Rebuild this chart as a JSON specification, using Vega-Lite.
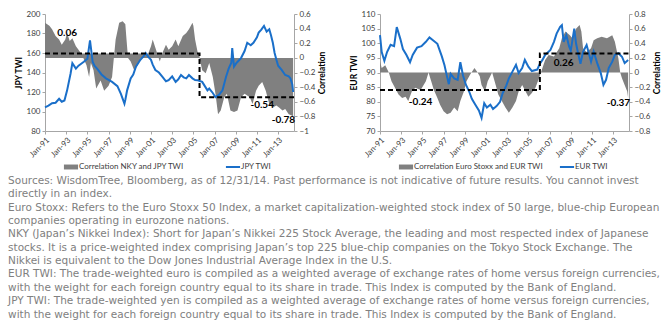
{
  "$schema": "https://vega.github.io/schema/vega-lite/v6.json",
  "background": "white",
  "padding": {"left": 8, "top": 10, "right": 2, "bottom": 2},
  "spacing": 22,
  "datasets": {
    "jpyTwi": [
      {"date":"1991-01-01","twi":104.3},{"date":"1991-05-01","twi":106},{"date":"1991-09-01","twi":108.5},{"date":"1992-01-01","twi":109},{"date":"1992-05-01","twi":113},{"date":"1992-08-01","twi":110},{"date":"1992-11-01","twi":111.3},{"date":"1993-02-01","twi":121.7},{"date":"1993-06-01","twi":139},{"date":"1993-08-01","twi":149.6},{"date":"1993-12-01","twi":144},{"date":"1994-03-01","twi":147},{"date":"1994-06-01","twi":149},{"date":"1994-09-01","twi":151},{"date":"1995-01-01","twi":154},{"date":"1995-04-01","twi":173},{"date":"1995-07-01","twi":151},{"date":"1995-09-01","twi":147},{"date":"1995-12-01","twi":144},{"date":"1996-05-01","twi":138},{"date":"1996-10-01","twi":134},{"date":"1997-05-01","twi":130.4},{"date":"1997-11-01","twi":126},{"date":"1998-03-01","twi":118},{"date":"1998-07-01","twi":108},{"date":"1998-08-01","twi":112},{"date":"1998-10-01","twi":121.7},{"date":"1999-02-01","twi":134},{"date":"1999-05-01","twi":138},{"date":"1999-08-01","twi":146},{"date":"2000-01-01","twi":153},{"date":"2000-05-01","twi":157},{"date":"2000-07-01","twi":160},{"date":"2000-10-01","twi":156},{"date":"2001-01-01","twi":153},{"date":"2001-03-01","twi":148},{"date":"2001-06-01","twi":142.6},{"date":"2001-10-01","twi":140},{"date":"2002-02-01","twi":135.6},{"date":"2002-06-01","twi":131},{"date":"2002-09-01","twi":132.2},{"date":"2003-01-01","twi":136},{"date":"2003-05-01","twi":130.4},{"date":"2003-08-01","twi":133},{"date":"2003-11-01","twi":137.4},{"date":"2004-02-01","twi":135},{"date":"2004-05-01","twi":134},{"date":"2004-08-01","twi":137.4},{"date":"2004-12-01","twi":134},{"date":"2005-03-01","twi":132.2},{"date":"2005-06-01","twi":132},{"date":"2005-11-01","twi":130.4},{"date":"2006-05-01","twi":121.7},{"date":"2006-07-01","twi":123.5},{"date":"2006-11-01","twi":119},{"date":"2007-02-01","twi":114.7},{"date":"2007-06-01","twi":117},{"date":"2007-10-01","twi":121.7},{"date":"2008-02-01","twi":135.6},{"date":"2008-05-01","twi":144},{"date":"2008-08-01","twi":150},{"date":"2008-09-01","twi":165},{"date":"2008-11-01","twi":146},{"date":"2009-02-01","twi":150},{"date":"2009-07-01","twi":154.8},{"date":"2009-11-01","twi":162},{"date":"2010-02-01","twi":170.5},{"date":"2010-06-01","twi":168},{"date":"2010-09-01","twi":170.5},{"date":"2011-01-01","twi":176},{"date":"2011-03-01","twi":180.9},{"date":"2011-06-01","twi":184},{"date":"2011-09-01","twi":187.8},{"date":"2011-12-01","twi":182},{"date":"2012-03-01","twi":184.3},{"date":"2012-05-01","twi":178},{"date":"2012-07-01","twi":170.5},{"date":"2012-09-01","twi":160},{"date":"2012-11-01","twi":153},{"date":"2013-01-01","twi":147},{"date":"2013-05-01","twi":142.6},{"date":"2013-09-01","twi":137.4},{"date":"2014-01-01","twi":136},{"date":"2014-03-01","twi":133.9},{"date":"2014-05-01","twi":128},{"date":"2014-06-01","twi":120}
    ],
    "jpyCorr": [
      {"date":"1991-01-01","corr":0.48},{"date":"1991-06-01","corr":0.44},{"date":"1991-09-01","corr":0.39},{"date":"1992-01-01","corr":0.30},{"date":"1992-05-01","corr":0.25},{"date":"1992-08-01","corr":0.18},{"date":"1992-12-01","corr":0.25},{"date":"1993-02-01","corr":0.34},{"date":"1993-05-01","corr":0.23},{"date":"1993-08-01","corr":0.27},{"date":"1993-12-01","corr":0.16},{"date":"1994-03-01","corr":0.11},{"date":"1994-07-01","corr":0.04},{"date":"1994-12-01","corr":-0.10},{"date":"1995-03-01","corr":-0.26},{"date":"1995-05-01","corr":-0.07},{"date":"1995-08-01","corr":-0.17},{"date":"1995-11-01","corr":-0.42},{"date":"1996-04-01","corr":-0.31},{"date":"1996-08-01","corr":-0.45},{"date":"1997-01-01","corr":-0.38},{"date":"1997-05-01","corr":-0.26},{"date":"1997-07-01","corr":0.0},{"date":"1997-09-01","corr":0.25},{"date":"1998-01-01","corr":0.48},{"date":"1998-05-01","corr":0.50},{"date":"1998-08-01","corr":0.46},{"date":"1998-09-01","corr":0.30},{"date":"1998-11-01","corr":0.0},{"date":"1999-02-01","corr":-0.05},{"date":"1999-06-01","corr":-0.17},{"date":"1999-09-01","corr":-0.12},{"date":"2000-01-01","corr":-0.02},{"date":"2000-05-01","corr":0.07},{"date":"2000-08-01","corr":0.0},{"date":"2001-01-01","corr":0.16},{"date":"2001-03-01","corr":0.25},{"date":"2001-06-01","corr":0.14},{"date":"2001-11-01","corr":-0.05},{"date":"2002-02-01","corr":0.07},{"date":"2002-06-01","corr":0.18},{"date":"2002-09-01","corr":0.11},{"date":"2003-01-01","corr":0.16},{"date":"2003-05-01","corr":0.25},{"date":"2003-08-01","corr":0.16},{"date":"2004-01-01","corr":0.30},{"date":"2004-05-01","corr":0.34},{"date":"2004-08-01","corr":0.39},{"date":"2004-12-01","corr":0.48},{"date":"2005-01-01","corr":0.44},{"date":"2005-03-01","corr":0.25},{"date":"2005-06-01","corr":0.07},{"date":"2005-08-01","corr":0.0},{"date":"2005-11-01","corr":-0.17},{"date":"2006-03-01","corr":-0.21},{"date":"2006-07-01","corr":-0.07},{"date":"2006-11-01","corr":-0.26},{"date":"2007-02-01","corr":-0.49},{"date":"2007-05-01","corr":-0.77},{"date":"2007-08-01","corr":-0.72},{"date":"2007-12-01","corr":-0.54},{"date":"2008-03-01","corr":-0.49},{"date":"2008-07-01","corr":-0.72},{"date":"2008-11-01","corr":-0.74},{"date":"2009-03-01","corr":-0.72},{"date":"2009-07-01","corr":-0.54},{"date":"2009-11-01","corr":-0.49},{"date":"2010-05-01","corr":-0.54},{"date":"2010-08-01","corr":-0.63},{"date":"2010-12-01","corr":-0.45},{"date":"2011-03-01","corr":-0.38},{"date":"2011-07-01","corr":-0.33},{"date":"2011-11-01","corr":-0.45},{"date":"2012-03-01","corr":-0.63},{"date":"2012-07-01","corr":-0.68},{"date":"2012-11-01","corr":-0.65},{"date":"2013-02-01","corr":-0.68},{"date":"2013-06-01","corr":-0.72},{"date":"2013-09-01","corr":-0.70},{"date":"2014-01-01","corr":-0.77},{"date":"2014-05-01","corr":-0.79},{"date":"2014-06-01","corr":-0.80}
    ],
    "jpyBand": [{"date":"1991-01-01","corr":0.06},{"date":"2005-08-01","corr":0.06}],
    "jpyAvg": [
      {"i":1,"date":"1991-01-01","corr":0.06},{"i":2,"date":"2005-08-01","corr":0.06},{"i":3,"date":"2005-08-01","corr":-0.54},{"i":4,"date":"2014-07-01","corr":-0.54}
    ],
    "jpyLbl": [
      {"date":"1993-02-01","corr":0.34,"label":"0.06"},{"date":"2011-07-01","corr":-0.65,"label":"-0.54"},{"date":"2013-07-01","corr":-0.85,"label":"-0.78"}
    ],
    "eurTwi": [
      {"date":"1991-01-01","twi":102.8},{"date":"1991-03-01","twi":97},{"date":"1991-06-01","twi":94},{"date":"1991-09-01","twi":97},{"date":"1992-01-01","twi":99.5},{"date":"1992-05-01","twi":99},{"date":"1992-08-01","twi":105.5},{"date":"1992-12-01","twi":101.5},{"date":"1993-03-01","twi":98},{"date":"1993-07-01","twi":96},{"date":"1993-11-01","twi":93.5},{"date":"1994-02-01","twi":96},{"date":"1994-07-01","twi":98.5},{"date":"1994-12-01","twi":99},{"date":"1995-05-01","twi":100.5},{"date":"1995-09-01","twi":102},{"date":"1996-01-01","twi":101},{"date":"1996-06-01","twi":99.8},{"date":"1996-11-01","twi":95.5},{"date":"1997-02-01","twi":92.5},{"date":"1997-05-01","twi":88.5},{"date":"1997-07-01","twi":86},{"date":"1997-09-01","twi":89.5},{"date":"1998-01-01","twi":88},{"date":"1998-05-01","twi":87.5},{"date":"1998-08-01","twi":93.5},{"date":"1998-11-01","twi":89},{"date":"1999-02-01","twi":86},{"date":"1999-06-01","twi":83.5},{"date":"1999-09-01","twi":81},{"date":"2000-01-01","twi":79},{"date":"2000-05-01","twi":77},{"date":"2000-08-01","twi":74.5},{"date":"2000-11-01","twi":79.5},{"date":"2001-02-01","twi":78},{"date":"2001-06-01","twi":79},{"date":"2001-09-01","twi":77.5},{"date":"2002-01-01","twi":78.5},{"date":"2002-05-01","twi":80},{"date":"2002-08-01","twi":83},{"date":"2002-12-01","twi":85.5},{"date":"2003-03-01","twi":88},{"date":"2003-07-01","twi":90.3},{"date":"2003-11-01","twi":92.6},{"date":"2004-02-01","twi":89.8},{"date":"2004-06-01","twi":91.5},{"date":"2004-09-01","twi":94.3},{"date":"2005-01-01","twi":92},{"date":"2005-05-01","twi":90.5},{"date":"2005-11-01","twi":91},{"date":"2006-02-01","twi":93},{"date":"2006-05-01","twi":94.3},{"date":"2006-08-01","twi":96},{"date":"2007-02-01","twi":97.7},{"date":"2007-06-01","twi":100.5},{"date":"2007-09-01","twi":103.3},{"date":"2008-01-01","twi":105.6},{"date":"2008-03-01","twi":106.2},{"date":"2008-05-01","twi":100.5},{"date":"2008-08-01","twi":102.8},{"date":"2008-11-01","twi":99},{"date":"2009-01-01","twi":97.5},{"date":"2009-05-01","twi":105},{"date":"2009-07-01","twi":100},{"date":"2009-09-01","twi":97},{"date":"2009-12-01","twi":93},{"date":"2010-03-01","twi":97.1},{"date":"2010-07-01","twi":99.4},{"date":"2010-12-01","twi":93.7},{"date":"2011-03-01","twi":97.1},{"date":"2011-07-01","twi":93.2},{"date":"2011-11-01","twi":89.8},{"date":"2012-02-01","twi":85.8},{"date":"2012-05-01","twi":87.5},{"date":"2012-08-01","twi":91.5},{"date":"2012-12-01","twi":93.7},{"date":"2013-03-01","twi":96},{"date":"2013-07-01","twi":96.6},{"date":"2013-11-01","twi":95.4},{"date":"2014-02-01","twi":93.2},{"date":"2014-06-01","twi":94.3}
    ],
    "eurCorr": [
      {"date":"1991-01-01","corr":0.15},{"date":"1991-03-01","corr":0.06},{"date":"1991-07-01","corr":0.10},{"date":"1991-11-01","corr":0.0},{"date":"1992-02-01","corr":-0.12},{"date":"1992-06-01","corr":-0.21},{"date":"1992-10-01","corr":-0.30},{"date":"1993-02-01","corr":-0.35},{"date":"1993-06-01","corr":-0.33},{"date":"1993-09-01","corr":-0.39},{"date":"1994-01-01","corr":-0.26},{"date":"1994-05-01","corr":-0.21},{"date":"1994-11-01","corr":-0.24},{"date":"1995-05-01","corr":-0.12},{"date":"1995-08-01","corr":0.0},{"date":"1995-11-01","corr":-0.12},{"date":"1996-02-01","corr":-0.24},{"date":"1996-06-01","corr":-0.35},{"date":"1996-09-01","corr":-0.44},{"date":"1997-01-01","corr":-0.53},{"date":"1997-05-01","corr":-0.57},{"date":"1997-09-01","corr":-0.55},{"date":"1998-01-01","corr":-0.48},{"date":"1998-05-01","corr":-0.53},{"date":"1998-08-01","corr":-0.39},{"date":"1998-12-01","corr":-0.26},{"date":"1999-03-01","corr":-0.12},{"date":"1999-07-01","corr":-0.03},{"date":"1999-12-01","corr":0.06},{"date":"2000-03-01","corr":0.01},{"date":"2000-06-01","corr":-0.05},{"date":"2000-08-01","corr":-0.17},{"date":"2000-12-01","corr":-0.26},{"date":"2001-03-01","corr":-0.12},{"date":"2001-08-01","corr":0.0},{"date":"2001-12-01","corr":-0.17},{"date":"2002-03-01","corr":-0.30},{"date":"2002-07-01","corr":-0.39},{"date":"2002-11-01","corr":-0.48},{"date":"2003-03-01","corr":-0.55},{"date":"2003-07-01","corr":-0.48},{"date":"2003-11-01","corr":-0.39},{"date":"2004-02-01","corr":-0.26},{"date":"2004-06-01","corr":-0.17},{"date":"2004-09-01","corr":-0.24},{"date":"2005-01-01","corr":-0.33},{"date":"2005-05-01","corr":-0.28},{"date":"2005-09-01","corr":-0.21},{"date":"2006-01-01","corr":-0.08},{"date":"2006-05-01","corr":0.06},{"date":"2006-08-01","corr":0.17},{"date":"2006-12-01","corr":0.24},{"date":"2007-06-01","corr":0.22},{"date":"2007-12-01","corr":0.33},{"date":"2008-03-01","corr":0.47},{"date":"2008-07-01","corr":0.56},{"date":"2008-12-01","corr":0.51},{"date":"2009-03-01","corr":0.47},{"date":"2009-07-01","corr":0.60},{"date":"2009-11-01","corr":0.65},{"date":"2010-01-01","corr":0.56},{"date":"2010-03-01","corr":0.33},{"date":"2010-07-01","corr":0.28},{"date":"2010-12-01","corr":0.33},{"date":"2011-03-01","corr":0.44},{"date":"2011-07-01","corr":0.47},{"date":"2011-12-01","corr":0.49},{"date":"2012-06-01","corr":0.47},{"date":"2012-12-01","corr":0.51},{"date":"2013-03-01","corr":0.42},{"date":"2013-07-01","corr":0.19},{"date":"2013-09-01","corr":0.0},{"date":"2013-11-01","corr":-0.08},{"date":"2014-02-01","corr":-0.17},{"date":"2014-05-01","corr":-0.26},{"date":"2014-06-01","corr":-0.35}
    ],
    "eurAvg": [
      {"i":1,"date":"1991-01-01","corr":-0.24},{"i":2,"date":"2006-02-01","corr":-0.24},{"i":3,"date":"2006-02-01","corr":0.26},{"i":4,"date":"2014-07-01","corr":0.26}
    ],
    "eurLbl": [
      {"date":"1994-11-01","corr":-0.41,"label":"-0.24"},{"date":"2008-05-01","corr":0.13,"label":"0.26"},{"date":"2013-07-01","corr":-0.42,"label":"-0.37"}
    ]
  },
  "resolve": {"scale": {"color": "independent"}, "legend": {"color": "independent"}},
  "hconcat": [
    {
      "width": 249,
      "height": 117,
      "resolve": {"scale": {"y": "independent"}},
      "layer": [
        {
          "data": {"name": "jpyCorr"},
          "mark": {"type": "area"},
          "encoding": {
            "x": {"field": "date", "type": "temporal", "scale": {"domain": [{"year":1991,"month":1,"date":1},{"year":2014,"month":7,"date":1}]},
                  "axis": {"values": [{"year":1991,"month":1,"date":1},{"year":1993,"month":1,"date":1},{"year":1995,"month":1,"date":1},{"year":1997,"month":1,"date":1},{"year":1999,"month":1,"date":1},{"year":2001,"month":1,"date":1},{"year":2003,"month":1,"date":1},{"year":2005,"month":1,"date":1},{"year":2007,"month":1,"date":1},{"year":2009,"month":1,"date":1},{"year":2011,"month":1,"date":1},{"year":2013,"month":1,"date":1}], "tickCount": 40, "format": "%b-%y", "labelAngle": -45, "labelOverlap": false, "title": null, "grid": false}},
            "y": {"field": "corr", "type": "quantitative", "scale": {"domain": [-1, 0.6], "nice": false},
                  "axis": {"orient": "right", "values": [-1,-0.8,-0.6,-0.4,-0.2,0,0.2,0.4,0.6], "tickCount": 40, "format": "~g", "labelOverlap": false, "title": "Correlation", "titleAngle": 270, "titleBaseline": "top", "grid": false}},
            "y2": {"datum": 0},
            "color": {"datum": "Correlation NKY and JPY TWI", "type": "nominal",
              "scale": {"domain": ["Correlation NKY and JPY TWI", "JPY TWI"], "range": ["#808080", "#1a6fc9"]},
              "legend": {"orient": "bottom", "direction": "horizontal", "title": null, "columnPadding": 36,
                "encode": {"symbols": {"update": {
                  "shape": {"signal": "datum.value === 'JPY TWI' ? 'stroke' : 'M-1,-0.35H1V0.35H-1Z'"},
                  "fill": {"signal": "datum.value === 'JPY TWI' ? 'transparent' : '#808080'"},
                  "stroke": {"signal": "datum.value === 'JPY TWI' ? '#1a6fc9' : '#808080'"},
                  "strokeWidth": {"signal": "datum.value === 'JPY TWI' ? 2 : 0"},
                  "opacity": {"value": 1}}}}}}
          }
        },
        {
          "data": {"name": "jpyBand"},
          "mark": {"type": "area", "color": "#808080"},
          "encoding": {
            "x": {"field": "date", "type": "temporal"},
            "y": {"field": "corr", "type": "quantitative", "scale": {"domain": [-1, 0.6], "nice": false}, "axis": null},
            "y2": {"datum": 0}
          }
        },
        {
          "data": {"name": "jpyTwi"},
          "mark": {"type": "line", "strokeWidth": 2},
          "encoding": {
            "x": {"field": "date", "type": "temporal"},
            "y": {"field": "twi", "type": "quantitative", "scale": {"domain": [80, 200], "nice": false},
                  "axis": {"orient": "left", "values": [80,100,120,140,160,180,200], "tickCount": 40, "labelOverlap": false, "title": "JPY TWI", "grid": false}},
            "color": {"datum": "JPY TWI", "type": "nominal"}
          }
        },
        {
          "layer": [
            {
              "data": {"name": "jpyAvg"},
              "mark": {"type": "line", "color": "#000000", "strokeDash": [5, 3], "strokeWidth": 2},
              "encoding": {
                "x": {"field": "date", "type": "temporal"},
                "y": {"field": "corr", "type": "quantitative", "scale": {"domain": [-1, 0.6], "nice": false}, "axis": null},
                "order": {"field": "i", "type": "quantitative"}
              }
            },
            {
              "data": {"name": "jpyLbl"},
              "mark": {"type": "text", "fontWeight": "bold", "fontSize": 10, "color": "#000000"},
              "encoding": {
                "x": {"field": "date", "type": "temporal"},
                "y": {"field": "corr", "type": "quantitative", "axis": null},
                "text": {"field": "label", "type": "nominal"}
              }
            }
          ]
        }
      ]
    },
    {
      "width": 249,
      "height": 117,
      "resolve": {"scale": {"y": "independent"}},
      "layer": [
        {
          "data": {"name": "eurCorr"},
          "mark": {"type": "area"},
          "encoding": {
            "x": {"field": "date", "type": "temporal", "scale": {"domain": [{"year":1991,"month":1,"date":1},{"year":2014,"month":7,"date":1}]},
                  "axis": {"values": [{"year":1991,"month":1,"date":1},{"year":1993,"month":1,"date":1},{"year":1995,"month":1,"date":1},{"year":1997,"month":1,"date":1},{"year":1999,"month":1,"date":1},{"year":2001,"month":1,"date":1},{"year":2003,"month":1,"date":1},{"year":2005,"month":1,"date":1},{"year":2007,"month":1,"date":1},{"year":2009,"month":1,"date":1},{"year":2011,"month":1,"date":1},{"year":2013,"month":1,"date":1}], "tickCount": 40, "format": "%b-%y", "labelAngle": -45, "labelOverlap": false, "title": null, "grid": false}},
            "y": {"field": "corr", "type": "quantitative", "scale": {"domain": [-0.8, 0.8], "nice": false},
                  "axis": {"orient": "right", "values": [-0.8,-0.6,-0.4,-0.2,0,0.2,0.4,0.6,0.8], "tickCount": 40, "format": "~g", "labelOverlap": false, "title": "Correlation", "titleAngle": 270, "titleBaseline": "top", "grid": false}},
            "y2": {"datum": 0},
            "color": {"datum": "Correlation Euro Stoxx and EUR TWI", "type": "nominal",
              "scale": {"domain": ["Correlation Euro Stoxx and EUR TWI", "EUR TWI"], "range": ["#808080", "#1a6fc9"]},
              "legend": {"orient": "bottom", "direction": "horizontal", "title": null, "columnPadding": 12,
                "encode": {"symbols": {"update": {
                  "shape": {"signal": "datum.value === 'EUR TWI' ? 'stroke' : 'M-1,-0.35H1V0.35H-1Z'"},
                  "fill": {"signal": "datum.value === 'EUR TWI' ? 'transparent' : '#808080'"},
                  "stroke": {"signal": "datum.value === 'EUR TWI' ? '#1a6fc9' : '#808080'"},
                  "strokeWidth": {"signal": "datum.value === 'EUR TWI' ? 2 : 0"},
                  "opacity": {"value": 1}}}}}}
          }
        },
        {
          "data": {"name": "eurTwi"},
          "mark": {"type": "line", "strokeWidth": 2},
          "encoding": {
            "x": {"field": "date", "type": "temporal"},
            "y": {"field": "twi", "type": "quantitative", "scale": {"domain": [70, 110], "nice": false},
                  "axis": {"orient": "left", "values": [70,75,80,85,90,95,100,105,110], "tickCount": 40, "labelOverlap": false, "title": "EUR TWI", "grid": false}},
            "color": {"datum": "EUR TWI", "type": "nominal"}
          }
        },
        {
          "layer": [
            {
              "data": {"name": "eurAvg"},
              "mark": {"type": "line", "color": "#000000", "strokeDash": [5, 3], "strokeWidth": 2},
              "encoding": {
                "x": {"field": "date", "type": "temporal"},
                "y": {"field": "corr", "type": "quantitative", "scale": {"domain": [-0.8, 0.8], "nice": false}, "axis": null},
                "order": {"field": "i", "type": "quantitative"}
              }
            },
            {
              "data": {"name": "eurLbl"},
              "mark": {"type": "text", "fontWeight": "bold", "fontSize": 10, "color": "#000000"},
              "encoding": {
                "x": {"field": "date", "type": "temporal"},
                "y": {"field": "corr", "type": "quantitative", "axis": null},
                "text": {"field": "label", "type": "nominal"}
              }
            }
          ]
        }
      ]
    }
  ],
  "title": {
    "text": [
      "Sources: WisdomTree, Bloomberg, as of 12/31/14. Past performance is not indicative of future results. You cannot invest",
      "directly in an index.",
      "Euro Stoxx: Refers to the Euro Stoxx 50 Index, a market capitalization-weighted stock index of 50 large, blue-chip European",
      "companies operating in eurozone nations.",
      "NKY (Japan’s Nikkei Index): Short for Japan’s Nikkei 225 Stock Average, the leading and most respected index of Japanese",
      "stocks. It is a price-weighted index comprising Japan’s top 225 blue-chip companies on the Tokyo Stock Exchange. The",
      "Nikkei is equivalent to the Dow Jones Industrial Average Index in the U.S.",
      "EUR TWI: The trade-weighted euro is compiled as a weighted average of exchange rates of home versus foreign currencies,",
      "with the weight for each foreign country equal to its share in trade. This Index is computed by the Bank of England.",
      "JPY TWI: The trade-weighted yen is compiled as a weighted average of exchange rates of home versus foreign currencies,",
      "with the weight for each foreign country equal to its share in trade. This Index is computed by the Bank of England."
    ],
    "orient": "bottom",
    "anchor": "start",
    "frame": "bounds",
    "dx": -6,
    "offset": 5,
    "font": "DejaVu Sans",
    "fontSize": 10.5,
    "fontWeight": "normal",
    "color": "#808080",
    "lineHeight": 13.35
  },
  "config": {
    "font": "Lato",
    "view": {"stroke": null},
    "axis": {
      "labelFont": "Lato", "labelFontSize": 8, "labelColor": "#404040", "labelOverlap": false, "tickCount": 40,
      "titleFont": "Lato", "titleFontSize": 8.5, "titleFontWeight": "bold", "titleColor": "#000000",
      "domainColor": "#a6a6a6", "tickColor": "#a6a6a6", "tickSize": 3, "labelPadding": 2, "titlePadding": 3
    },
    "legend": {
      "labelFont": "Lato", "labelFontSize": 8, "labelColor": "#404040", "symbolSize": 200, "offset": 4,
      "layout": {"bottom": {"anchor": "middle"}}
    }
  }
}
